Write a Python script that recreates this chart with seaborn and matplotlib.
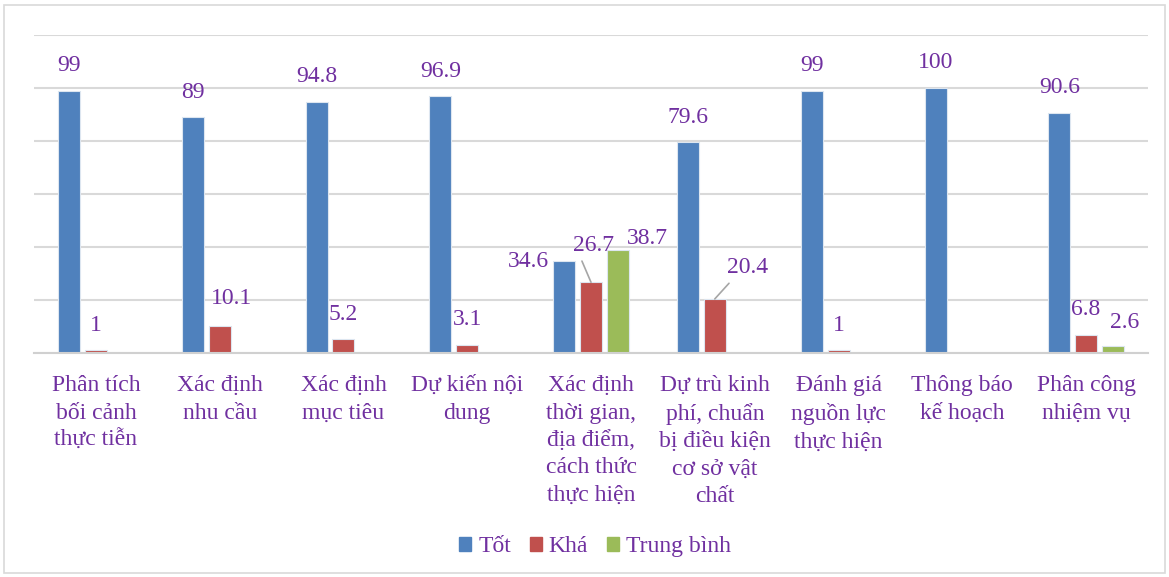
import pandas as pd
import matplotlib.pyplot as plt
import matplotlib.patches as mpatches
import seaborn as sns

# === Data ===
categories = [
    "Phân tích\nbối cảnh\nthực tiễn",
    "Xác định\nnhu cầu",
    "Xác định\nmục tiêu",
    "Dự kiến nội\ndung",
    "Xác định\nthời gian,\nđịa điểm,\ncách thức\nthực hiện",
    "Dự trù kinh\nphí, chuẩn\nbị điều kiện\ncơ sở vật\nchất",
    "Đánh giá\nnguồn lực\nthực hiện",
    "Thông báo\nkế hoạch",
    "Phân công\nnhiệm vụ",
]
series = ["Tốt", "Khá", "Trung bình"]
tot = [99, 89, 94.8, 96.9, 34.6, 79.6, 99, 100, 90.6]
kha = [1, 10.1, 5.2, 3.1, 26.7, 20.4, 1, None, 6.8]
trung_binh = [None, None, None, None, 38.7, None, None, None, 2.6]

colors = ["#4F81BD", "#C0504D", "#9BBB59"]
purple = "#7030A0"

# long table for seaborn
rows = []
for name, vals in zip(series, [tot, kha, trung_binh]):
    for cat, v in zip(categories, vals):
        rows.append({"cat": cat, "series": name, "value": v})
df = pd.DataFrame(rows)

plt.rcParams["font.family"] = ["Liberation Serif", "DejaVu Serif"]

fig = plt.figure(figsize=(11.69, 5.77), dpi=100)
ax = fig.add_axes([34 / 1169, 1 - 353 / 577, (1148 - 34) / 1169, (353 - 35) / 577])

sns.barplot(data=df, x="cat", y="value", hue="series", order=categories,
            hue_order=series, palette=colors, saturation=1, width=0.65,
            gap=0.18, edgecolor="#dde6f0", linewidth=0.8, errorbar=None,
            ax=ax, legend=False)

ax.set_ylim(0, 120)
ax.set_xlim(-0.5, len(categories) - 0.5)
ax.set_yticks(range(0, 121, 20))
ax.yaxis.grid(True, color="#d9d9d9", linewidth=1.5)
ax.set_axisbelow(True)
ax.set_yticklabels([])
ax.tick_params(axis="y", length=0)
ax.tick_params(axis="x", length=0, pad=16, labelsize=17, labelcolor=purple)
for lab in ax.get_xticklabels():
    lab.set_linespacing(1.4)
ax.set_xlabel("")
ax.set_ylabel("")
for s in ["top", "left", "right"]:
    ax.spines[s].set_visible(False)
ax.spines["bottom"].set_color("#d0d0d0")
ax.spines["bottom"].set_linewidth(1.5)

# manually moved labels (pixel offsets of label centre from bar top)
moved = {
    (0, 4): (-36, 0),
    (1, 4): (3, -37),
    (2, 4): (30, -12),
    (1, 5): (33, -31),
    (1, 1): (12, -28),
    (2, 8): (12, -24),
}
leaders = {(1, 4), (1, 5)}

all_vals = [tot, kha, trung_binh]
for si, cont in enumerate(ax.containers):
    for bar in cont:
        h = bar.get_height()
        if h != h or h == 0:
            continue
        cx = bar.get_x() + bar.get_width() / 2
        ci = int(round(cx))
        v = all_vals[si][ci]
        off = moved.get((si, ci), (0, -25))
        arrow = None
        if (si, ci) in leaders:
            arrow = dict(arrowstyle="-", color="#a6a6a6", lw=1.2,
                         shrinkA=2, shrinkB=0, relpos=(0.15, 0))
        ax.annotate(f"{v:g}", xy=(cx, h), xytext=(off[0], -off[1]),
                    textcoords="offset pixels", ha="center", va="center",
                    fontsize=17, color=purple, arrowprops=arrow)

handles = [mpatches.Patch(color=c, label=s) for c, s in zip(colors, series)]
fig.legend(handles=handles, loc="center", bbox_to_anchor=(0.509, 0.052),
           ncol=3, frameon=False, fontsize=17, labelcolor=purple,
           handlelength=0.5, handleheight=0.5, handletextpad=0.3,
           columnspacing=0.8)

fig.patches.append(mpatches.Rectangle((4 / 1169, 4 / 577), 1 - 8 / 1169, 1 - 9 / 577,
                                      transform=fig.transFigure, fill=False,
                                      edgecolor="#d9d9d9", linewidth=1.2))

fig.savefig("out.png", dpi=100)
